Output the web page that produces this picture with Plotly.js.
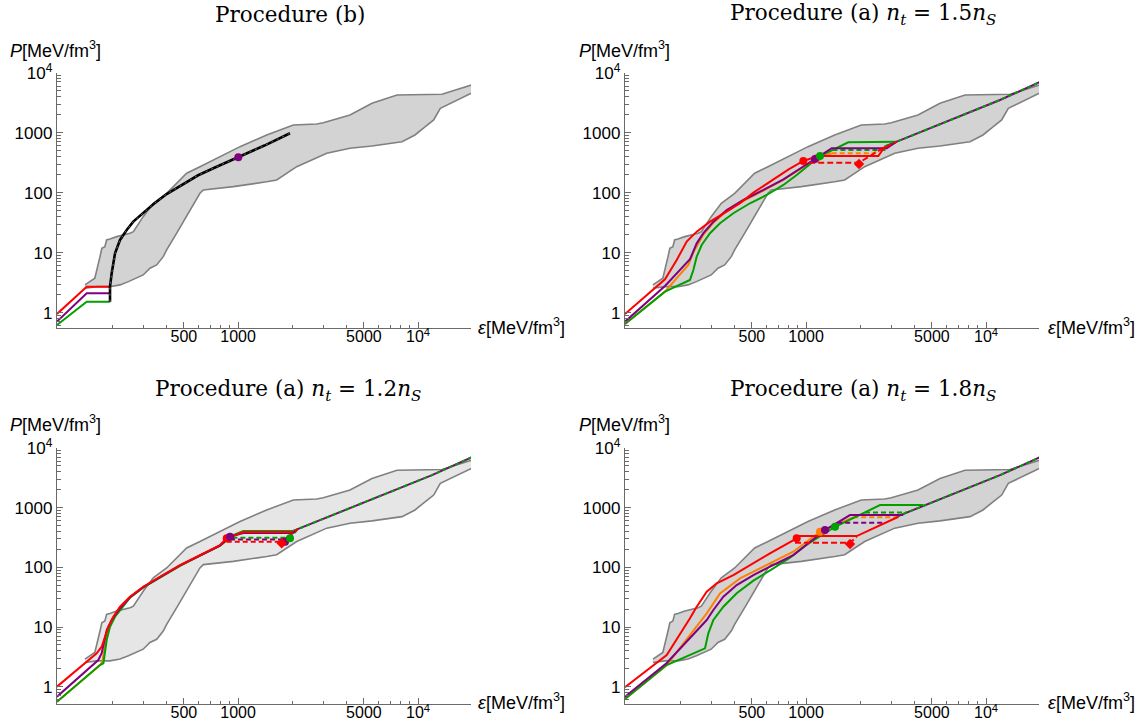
<!DOCTYPE html>
<html><head><meta charset="utf-8">
<script src="https://cdn.plot.ly/plotly-3.0.1.min.js"></script>
<style>html,body{margin:0;padding:0;background:#fff}#chart{width:1144px;height:724px}</style>
</head><body><div id="chart"></div>
<script>
// ---------- data ----------
const xTickVals = [500, 1000, 5000, 10000];
const xTickText = ['500', '1000', '5000', '10<sup>4</sup>'];
const xMinorVals = [200,300,400,600,700,800,900,2000,3000,4000,6000,7000,8000,9000];
const yTickVals = [1, 10, 100, 1000, 10000];
const yTickText = ['1', '10', '100', '1000', '10<sup>4</sup>'];
const yMinorVals = [0.6,0.7,0.8,0.9,2,3,4,5,6,7,8,9,20,30,40,50,60,70,80,90,200,300,400,500,600,700,800,900,2000,3000,4000,5000,6000,7000,8000,9000];

const panelTitles = ['Procedure (b)',
  'Procedure (a) <i>n</i><sub><i>t</i></sub> = 1.5<i>n</i><sub><i>S</i></sub>',
  'Procedure (a) <i>n</i><sub><i>t</i></sub> = 1.2<i>n</i><sub><i>S</i></sub>',
  'Procedure (a) <i>n</i><sub><i>t</i></sub> = 1.8<i>n</i><sub><i>S</i></sub>'];

// allowed band
const bandUpperE = [141,160,171,175,182,186,194,212,251,262,297,338,401,456,518,614,729,1025,1442,1783,2027,2734,2975,4186,5546,7637,13580,19760];
const bandUpperP = [2.9,3.74,8.58,11.8,12.6,16.3,16.9,18.5,21.1,22.4,39.8,66.6,97.7,143,211,271,351,585,916,1184,1344,1396,1468,1972,3090,4249,4365,6237];
const bandLowerE = [141,164,194,221,246,273,297,324,353,384,401,456,518,614,641,941,1442,1639,2117,3108,4186,5546,8141,9614,10970,12210,13290,19760];
const bandLowerP = [2.55,2.71,2.71,2.9,3.29,3.74,4.25,5.5,6.24,8.58,11.1,21.1,39.8,97.7,111,126,152,163,271,454,550,600,708,916,1259,1628,2551,4536];

// common high-density branch
const commonE = [2027, 2744, 3187, 4500, 6000, 8500, 11950, 19940];
const commonP = [409, 590, 708, 1070, 1517, 2300, 3508, 7000];

// Panel 1: procedure (b)
const p1RedE = [98.6, 144.2, 194.3];      const p1RedP = [0.95, 2.71, 2.71];
const p1PurpleE = [98.6, 144.2, 194.3];   const p1PurpleP = [0.708, 2.105, 2.105];
const p1GreenE = [98.6, 144.2, 194.3];    const p1GreenP = [0.624, 1.525, 1.525];
const p1BlackE = [194.3,194.3,198.5,207.2,220.8,240.5,261.7,297.4,338,401,496,600,760,1003,1400,1943];
const p1BlackP = [1.525,2.71,4.54,9.77,16.3,23.9,32.9,46,64,95,140,195,271,389,610,977];
const p1DotE = [1003]; const p1DotP = [389];

// Panel 2: n_t = 1.5 n_S
const p2OrangeE = [98.6,164.5,221.7,240,268.9,305.6,362.2,448.6,579.6,748.5,1150,1388];
const p2OrangeP = [0.648,2.24,6.24,11,20,31.5,49.5,73,108,164,380,454];
const p2OrangeDE = [1388,2362,2744]; const p2OrangeDP = [454,454,590];
const p2GreenE = [98.6,164.5,226.5,236.5,246.8,263,292.6,332.5,394.3,488.1,604.2,748.5,887,1195,1716,3119,3187];
const p2GreenP = [0.648,2.24,3.51,5.15,8.58,13.4,21.06,30.9,45.4,66.6,91.5,134.4,197.2,409,692,692,708];
const p2GreenDE = [1401,2731,2950]; const p2GreenDP = [515,515,645];
const p2PurpleE = [98.6,164.5,226.5,246.8,268.9,305.6,362.2,448.6,579.6,748.5,1121,1388,2805,3187];
const p2PurpleP = [0.708,2.79,7.76,14.3,21.1,32.9,51.5,75.5,110.9,167.2,364.5,550,550,708];
const p2RedE = [98.6,164.5,191.1,217.2,246.8,292.6,362,429.5,510,650,800,965,1169,2519,2744];
const p2RedP = [0.95,3.6,7.56,15.3,22.4,32.9,48.3,66.6,100,160,245,338,409,409,590];
const p2RedDE = [928,1968,2574,3187]; const p2RedDP = [316,316,516,708];
const p2DotE = [965,1150,1121,1195]; const p2DotP = [338,380,364.5,409];
const p2DiamE = [1968]; const p2DiamP = [301];

// Panel 3: n_t = 1.2 n_S
const p3OrangeE = [98.6,171,176,180,186.3,198.5,220.8,250.9,297.4,368.3,475.8,614.3,793.6,920,1069,2027];
const p3OrangeP = [0.56,2.31,2.6,4,7.5,12.5,20.5,31.5,46.5,68.5,107,158,231,330,398,398];
const p3GreenE = [98.6,171,178.5,182,186.3,194.3,207.2,225.4,250.9,297.4,368.3,475.8,614.3,793.6,940.6,1069,2027];
const p3GreenP = [0.56,2.31,2.47,3.63,6.06,10.1,14.9,20.6,31,46,68,106,157,230,347.5,405,405];
const p3PurpleE = [98.6,167.3,174.7,178,186.3,198.5,220.8,250.9,297.4,368.3,475.8,614.3,793.6,901.6,1069,2027];
const p3PurpleP = [0.68,2.8,3.63,4.68,8.91,13.1,20.6,31.5,46.5,68.5,107.5,158,232,325.5,375,375];
const p3RedE = [98.6,163.9,174.7,182.2,190.1,202.7,220.8,250.9,297.4,368.3,475.8,614.3,793.6,864.8,1069,2027];
const p3RedP = [1.0,3.63,4.68,6.88,10.1,14.9,21.9,32.2,47.3,69.6,109.3,160.7,236.4,306,390,390];
const p3GreenDE = [930,1943,2150];  const p3GreenDP = [312,312,439];
const p3PurpleDE = [901.6,1823,2150]; const p3PurpleDP = [294,294,439];
const p3RedDE = [865,1746,2150];    const p3RedDP = [268,268,439];
const p3DotE = [864.8,901.6,1823,1943]; const p3DotP = [306,325.5,268.5,306];
const p3DotC = ['#ff0000','#800080','#800080','#00a000'];
const p3DiamE = [1746]; const p3DiamP = [252.5];

// Panel 4: n_t = 1.8 n_S
const p4OrangeE = [98.6,168.2,280.5,332.5,429.5,604.2,849,1195,1828];
const p4OrangeP = [0.62,2.31,16.96,36.7,65.4,109.3,182.5,395,688];
const p4OrangeDE = [1828,3187]; const p4OrangeDP = [688,688];
const p4GreenE = [98.6,168.2,274.5,286.4,305.5,347.1,411.8,509.7,657.5,814,1000,1448,2575,4479];
const p4GreenP = [0.62,2.31,4.4,7.84,13.1,21.9,36.7,60,96,145,235,478.6,1105,1105];
const p4GreenDE = [2125,3622]; const p4GreenDP = [834,834];
const p4PurpleE = [98.6,168.2,280.5,305.5,347.1,411.8,509.7,657.5,849,1274,1754,3467];
const p4PurpleP = [0.68,2.5,13.1,19.3,32.2,50.5,74.3,109.3,160.7,421.6,751.6,751.6];
const p4PurpleDE = [1489,2682]; const p4PurpleDP = [558.5,558.5];
const p4RedE = [98.6,168.2,226.5,246.8,280.5,318.7,394.3,488,630,887,925,1911,3260];
const p4RedP = [0.98,3.4,14,21.9,39,54,74.3,110,171.6,306,334,334,704];
const p4RedDE = [868,1754,1911]; const p4RedDP = [258,258,324];
const p4DotE = [887,1195,1274,1448]; const p4DotP = [306,395,421.6,478.6];
const p4DotC = ['#ff0000','#ff8000','#800080','#00a000'];
const p4DiamE = [1754]; const p4DiamP = [246];

// ---------- styling ----------
const RED = '#ff0000', PURPLE = '#800080', GREEN = '#00a000', ORANGE = '#ff8000';
const traces = [];
function line(ax, E, P, color, dash, width) {
  traces.push({type:'scatter', mode:'lines', x:E, y:P, xaxis:'x'+ax, yaxis:'y'+ax,
    line:{color:color, width:width||2, dash:dash||'solid'}, hoverinfo:'skip', showlegend:false});
}
function dots(ax, E, P, color, symbol, size) {
  traces.push({type:'scatter', mode:'markers', x:E, y:P, xaxis:'x'+ax, yaxis:'y'+ax,
    marker:{color:color, size:size||8, symbol:symbol||'circle', line:{width:0}}, hoverinfo:'skip', showlegend:false});
}
function band(ax, fill) {
  const xs = bandUpperE.concat(bandLowerE.slice().reverse());
  const ys = bandUpperP.concat(bandLowerP.slice().reverse());
  traces.push({type:'scatter', mode:'lines', x:xs, y:ys, xaxis:'x'+ax, yaxis:'y'+ax,
    fill:'toself', fillcolor:fill, line:{width:0, color:fill}, hoverinfo:'skip', showlegend:false});
  line(ax, bandUpperE, bandUpperP, '#808080', 'solid', 1.6);
  line(ax, bandLowerE, bandLowerP, '#808080', 'solid', 1.6);
}
function common(ax, from) {
  const i = commonE.indexOf(from);
  line(ax, commonE.slice(i), commonP.slice(i), PURPLE, 'solid', 2);
  line(ax, commonE.slice(i), commonP.slice(i), GREEN, '4px,3px', 2);
}

// Panel 1
band('', '#d3d3d3');
line('', p1GreenE, p1GreenP, GREEN);
line('', p1PurpleE, p1PurpleP, PURPLE);
line('', p1RedE, p1RedP, RED);
line('', p1BlackE, p1BlackP, '#000000', 'solid', 2.6);
line('', p1BlackE, p1BlackP, '#6a6a6a', '2px,4px', 1);
dots('', p1DotE, p1DotP, PURPLE, 'circle', 8);

// Panel 2
band('2', '#d3d3d3');
common('2', 2744);
line('2', p2OrangeE, p2OrangeP, ORANGE);
line('2', p2OrangeDE, p2OrangeDP, ORANGE, '5px,3px');
line('2', p2GreenE, p2GreenP, GREEN);
line('2', p2GreenDE, p2GreenDP, GREEN, '5px,3px');
line('2', p2PurpleE, p2PurpleP, PURPLE);
line('2', p2RedE, p2RedP, RED);
line('2', p2RedDE, p2RedDP, RED, '6px,3px');
dots('2', p2DotE, p2DotP, [RED, ORANGE, PURPLE, GREEN], 'circle', 8);
dots('2', p2DiamE, p2DiamP, RED, 'diamond', 8);

// Panel 3
band('3', '#e6e6e6');
common('3', 2027);
line('3', p3OrangeE, p3OrangeP, ORANGE);
line('3', p3GreenE, p3GreenP, GREEN);
line('3', p3PurpleE, p3PurpleP, PURPLE);
line('3', p3RedE, p3RedP, RED);
line('3', p3GreenDE, p3GreenDP, GREEN, '5px,3px');
line('3', p3PurpleDE, p3PurpleDP, PURPLE, '5px,3px');
line('3', p3RedDE, p3RedDP, RED, '5px,3px');
dots('3', p3DotE, p3DotP, p3DotC, 'circle', 8);
dots('3', p3DiamE, p3DiamP, RED, 'diamond', 8);

// Panel 4
band('4', '#d3d3d3');
common('4', 3187);
line('4', p4OrangeE, p4OrangeP, ORANGE);
line('4', p4OrangeDE, p4OrangeDP, ORANGE, '5px,3px');
line('4', p4GreenE, p4GreenP, GREEN);
line('4', p4GreenDE, p4GreenDP, GREEN, '5px,3px');
line('4', p4PurpleE, p4PurpleP, PURPLE);
line('4', p4PurpleDE, p4PurpleDP, PURPLE, '5px,3px');
line('4', p4RedE, p4RedP, RED);
line('4', p4RedDE, p4RedDP, RED, '6px,3px');
dots('4', p4DotE, p4DotP, p4DotC, 'circle', 8);
dots('4', p4DiamE, p4DiamP, RED, 'diamond', 8);

// ---------- layout ----------
const W = 1144, H = 724;
const AXC = '#6a6a6a';
const tickFont = {family:'Liberation Sans, Arial, sans-serif', size:17, color:'#000'};
const xTickFont = {family:'Liberation Sans, Arial, sans-serif', size:16, color:'#000'};
function xax(l, r, anchor) {
  return {type:'log', domain:[l/W, r/W], range:[1.994, 4.294], anchor:anchor,
    showline:true, linecolor:AXC, linewidth:1.2, showgrid:false, zeroline:false,
    ticks:'inside', ticklen:6, tickwidth:1, tickcolor:AXC, ticklabelstandoff:-6,
    tickmode:'array', tickvals:xTickVals, ticktext:xTickText, tickfont:xTickFont,
    minor:{tickmode:'array', tickvals:xMinorVals, ticks:'inside', ticklen:3.5, tickcolor:AXC, tickwidth:1, showgrid:false},
    fixedrange:true};
}
function yax(top, bot, lo, anchor) {
  return {type:'log', domain:[1-bot/H, 1-top/H], range:[lo, 4.0], anchor:anchor,
    showline:true, linecolor:AXC, linewidth:1.2, showgrid:false, zeroline:false,
    ticks:'inside', ticklen:6, tickwidth:1, tickcolor:AXC,
    tickmode:'array', tickvals:yTickVals, ticktext:yTickText, tickfont:tickFont,
    minor:{tickmode:'array', tickvals:yMinorVals, ticks:'inside', ticklen:3.5, tickcolor:AXC, tickwidth:1, showgrid:false},
    fixedrange:true};
}
const titleFont = {family:'DejaVu Serif, serif', size:21.5, color:'#000'};
const labFont = {family:'Liberation Sans, Arial, sans-serif', size:18, color:'#000'};
const ann = [];
function at(x, y, text, font, xanchor) {
  ann.push({xref:'paper', yref:'paper', x:x/W, y:1-y/H, text:text, showarrow:false,
    font:font, xanchor:xanchor||'center', yanchor:'middle'});
}
at(290, 15, panelTitles[0], titleFont);
at(863, 15, panelTitles[1], titleFont);
at(288, 390, panelTitles[2], titleFont);
at(863, 390, panelTitles[3], titleFont);
const pLab = '<i>P</i>[MeV/fm<sup>3</sup>]';
const eLab = '<i>ε</i>[MeV/fm<sup>3</sup>]';
at(8, 49, pLab, labFont, 'left');
at(577, 49, pLab, labFont, 'left');
at(8, 424, pLab, labFont, 'left');
at(577, 424, pLab, labFont, 'left');
at(476, 326, eLab, labFont, 'left');
at(1046, 326, eLab, labFont, 'left');
at(476, 701, eLab, labFont, 'left');
at(1046, 701, eLab, labFont, 'left');

const layout = {
  width:W, height:H, margin:{l:0, r:0, t:0, b:0},
  paper_bgcolor:'#fff', plot_bgcolor:'rgba(0,0,0,0)', showlegend:false,
  xaxis: xax(57, 471, 'y'),   yaxis: yax(72.7, 328, -0.256, 'x'),
  xaxis2: xax(625, 1039, 'y2'), yaxis2: yax(72.7, 328, -0.256, 'x2'),
  xaxis3: xax(57, 471, 'y3'),  yaxis3: yax(448, 704, -0.29, 'x3'),
  xaxis4: xax(625, 1039, 'y4'), yaxis4: yax(448, 704, -0.29, 'x4'),
  annotations: ann
};
Plotly.newPlot('chart', traces, layout, {staticPlot:true, displayModeBar:false});
</script></body></html>
